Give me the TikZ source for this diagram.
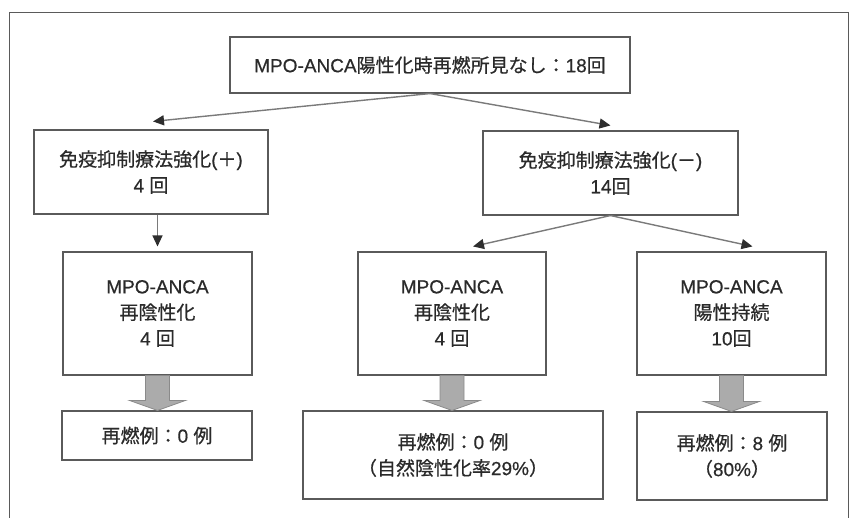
\documentclass[tikz,border=0pt]{standalone}
\usepackage{fontspec}
\setmainfont{Liberation Sans}[FakeBold=0.6]
\newfontfamily\cjk{Noto Sans CJK JP}[FakeBold=0.6]
\usetikzlibrary{calc,arrows.meta}
\definecolor{boxline}{HTML}{5A5A5A}
\definecolor{arrline}{HTML}{7A7A7A}
\definecolor{arrhead}{HTML}{2E2E2E}
\definecolor{blkfill}{HTML}{ABABAB}
\definecolor{blkline}{HTML}{8A8A8A}
\definecolor{txt}{HTML}{2A2A2A}
\tikzset{
  box/.style={draw=boxline, line width=1.1pt, rectangle, align=center, inner sep=0pt,
    text=txt, font=\fontsize{19}{26}\selectfont},
  arr/.style={draw=arrline, line width=1.4pt,
    -{Triangle[length=11pt,width=10pt,color=arrhead]}},
  blk/.style={fill=blkfill, draw=blkline, line width=0.8pt, line join=miter},
  frame/.style={draw=boxline, line width=1pt}
}
\begin{document}
\begin{tikzpicture}[x=1pt,y=-1pt]
\useasboundingbox (0,0) rectangle (857,518);
\draw[frame] (9,518) -- (9,13) -- (848,13) -- (848,518);

\node[box, minimum width=400pt, minimum height=56pt] (top) at (430,65)
  {MPO-ANCA{\cjk 陽性化時再燃所見なし：}18{\cjk 回}};
\node[box, minimum width=234pt, minimum height=84pt] (L) at (151,172)
  {{\cjk 免疫抑制療法強化}({\cjk ＋})\\4 {\cjk 回}};
\node[box, minimum width=255pt, minimum height=84pt] (R) at (610.5,173)
  {{\cjk 免疫抑制療法強化}({\cjk －})\\14{\cjk 回}};
\node[box, minimum width=189pt, minimum height=123pt] (A) at (157.5,313.5)
  {MPO-ANCA\\{\cjk 再陰性化}\\4 {\cjk 回}};
\node[box, minimum width=188pt, minimum height=123pt] (B) at (452,313.5)
  {MPO-ANCA\\{\cjk 再陰性化}\\4 {\cjk 回}};
\node[box, minimum width=189pt, minimum height=123pt] (C) at (731.5,313.5)
  {MPO-ANCA\\{\cjk 陽性持続}\\10{\cjk 回}};
\node[box, minimum width=190pt, minimum height=49pt] (A2) at (157,435.5)
  {{\cjk 再燃例：}0 {\cjk 例}};
\node[box, minimum width=300pt, minimum height=88pt] (B2) at (453,455)
  {{\cjk 再燃例：}0 {\cjk 例}\\{\cjk （自然陰性化率}29\%{\cjk ）}};
\node[box, minimum width=190pt, minimum height=88pt] (C2) at (732,456)
  {{\cjk 再燃例：}8 {\cjk 例}\\{\cjk （}80\%{\cjk ）}};

\draw[arr] (top.south) -- ($(L.north)+(2,-8)$);
\draw[arr] (top.south) -- ($(R.north)+(0,-5)$);
\draw[arr] (L.south -| A.north) -- ($(A.north)+(0,-5)$);
\draw[arr] (R.south) -- ($(B.north)+(21,-5)$);
\draw[arr] (R.south) -- ($(C.north)+(21,-5)$);

\foreach \u/\v in {A/A2, B/B2, C/C2}{
  \path[blk] ($(\u.south)+(-12,0)$) -- ($(\u.south|-\v.north)+(-12,-10)$)
    -- ($(\u.south|-\v.north)+(-28,-10)$) -- (\u.south|-\v.north)
    -- ($(\u.south|-\v.north)+(28,-10)$) -- ($(\u.south|-\v.north)+(12,-10)$)
    -- ($(\u.south)+(12,0)$) -- cycle;
}
\end{tikzpicture}
\end{document}
